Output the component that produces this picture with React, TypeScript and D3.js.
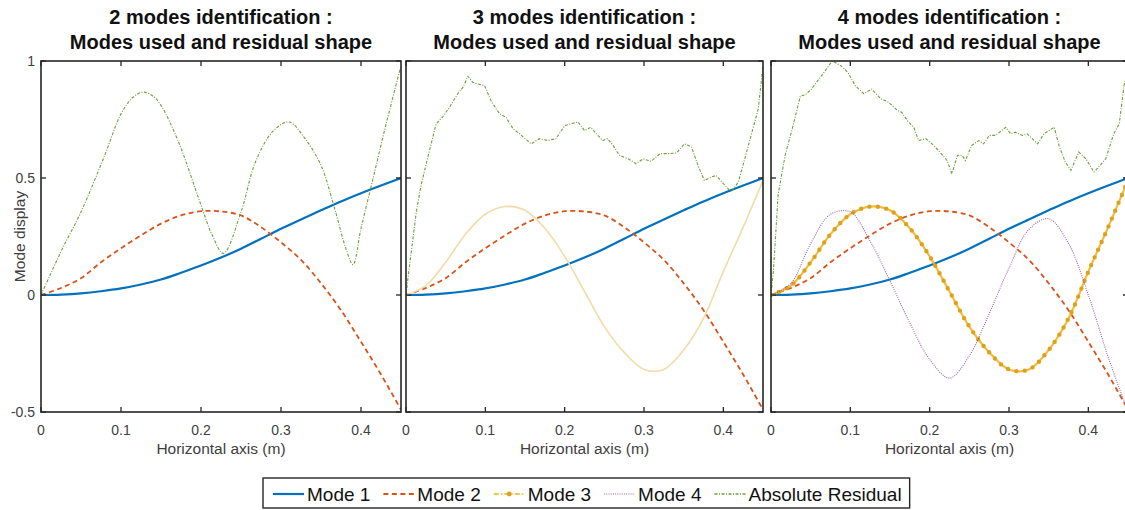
import React from "react";
import * as d3 from "d3";

const W = 1125;
const H = 510;

// Mode shapes sampled along the beam (m)
const xGrid = [0, 0.025, 0.05, 0.075, 0.1, 0.125, 0.15, 0.175, 0.2, 0.225, 0.25, 0.275, 0.3, 0.325, 0.35, 0.375, 0.4, 0.425, 0.45];
const mode1 = [0, 0.002, 0.007, 0.016, 0.028, 0.045, 0.066, 0.095, 0.126, 0.16, 0.198, 0.24, 0.283, 0.323, 0.362, 0.4, 0.435, 0.468, 0.5];
const mode2 = [0, 0.03, 0.072, 0.14, 0.2, 0.255, 0.305, 0.34, 0.358, 0.357, 0.34, 0.29, 0.225, 0.15, 0.05, -0.065, -0.2, -0.34, -0.49];
const mode3 = [0, 0.04, 0.14, 0.26, 0.345, 0.378, 0.362, 0.285, 0.165, 0.015, -0.135, -0.245, -0.318, -0.318, -0.235, -0.1, 0.1, 0.29, 0.49];
const mode4 = [0, 0.05, 0.22, 0.345, 0.355, 0.23, 0.06, -0.12, -0.275, -0.355, -0.26, -0.08, 0.115, 0.28, 0.326, 0.22, 0.0, -0.265, -0.5];

// Absolute residual, 2 modes
const res1X = [0, 0.012, 0.027, 0.05, 0.08, 0.1, 0.115, 0.128, 0.14, 0.15, 0.172, 0.2, 0.214, 0.228, 0.25, 0.268, 0.29, 0.31, 0.33, 0.35, 0.367, 0.381, 0.39, 0.4, 0.415, 0.432, 0.45];
const res1Y = [0, 0.09, 0.2, 0.355, 0.6, 0.774, 0.845, 0.867, 0.85, 0.81, 0.653, 0.384, 0.256, 0.178, 0.355, 0.568, 0.7, 0.739, 0.668, 0.554, 0.37, 0.2, 0.13, 0.284, 0.497, 0.739, 0.98];

// Absolute residual, 3 modes
const res2X = [0, 0.004, 0.013, 0.019, 0.025, 0.038, 0.046, 0.055, 0.065, 0.072, 0.078, 0.084, 0.09, 0.099, 0.107, 0.118, 0.126, 0.135, 0.143, 0.158, 0.168, 0.179, 0.189, 0.2, 0.208, 0.217, 0.225, 0.233, 0.24, 0.248, 0.254, 0.261, 0.269, 0.28, 0.29, 0.299, 0.309, 0.32, 0.332, 0.341, 0.351, 0.36, 0.368, 0.376, 0.385, 0.391, 0.4, 0.41, 0.419, 0.427, 0.435, 0.444, 0.45];
const res2Y = [0, 0.114, 0.355, 0.469, 0.554, 0.732, 0.76, 0.803, 0.859, 0.888, 0.935, 0.909, 0.902, 0.895, 0.831, 0.774, 0.76, 0.71, 0.689, 0.646, 0.668, 0.66, 0.668, 0.724, 0.732, 0.739, 0.703, 0.717, 0.689, 0.66, 0.668, 0.639, 0.597, 0.582, 0.561, 0.582, 0.571, 0.604, 0.604, 0.607, 0.646, 0.632, 0.554, 0.49, 0.504, 0.511, 0.476, 0.44, 0.483, 0.582, 0.682, 0.795, 0.98];

// Absolute residual, 4 modes
const res3X = [0, 0.003, 0.009, 0.018, 0.026, 0.037, 0.043, 0.051, 0.062, 0.07, 0.077, 0.083, 0.091, 0.098, 0.106, 0.117, 0.127, 0.138, 0.148, 0.159, 0.165, 0.173, 0.18, 0.186, 0.195, 0.203, 0.211, 0.222, 0.228, 0.235, 0.241, 0.245, 0.253, 0.262, 0.268, 0.275, 0.283, 0.296, 0.302, 0.308, 0.317, 0.323, 0.336, 0.344, 0.357, 0.363, 0.371, 0.378, 0.388, 0.397, 0.407, 0.413, 0.422, 0.432, 0.439, 0.445, 0.45];
const res3Y = [0, 0.1, 0.43, 0.6, 0.7, 0.85, 0.855, 0.88, 0.93, 0.966, 1.0, 0.99, 0.973, 0.945, 0.895, 0.86, 0.88, 0.84, 0.824, 0.79, 0.78, 0.74, 0.717, 0.66, 0.668, 0.646, 0.618, 0.575, 0.518, 0.597, 0.597, 0.575, 0.639, 0.66, 0.646, 0.682, 0.682, 0.717, 0.689, 0.696, 0.682, 0.689, 0.646, 0.689, 0.717, 0.639, 0.568, 0.533, 0.611, 0.582, 0.526, 0.547, 0.582, 0.689, 0.732, 0.895, 0.97];

const xTicks = [0, 0.1, 0.2, 0.3, 0.4];
const yTicks = [-0.5, 0, 0.5, 1];
const titles = ["2 modes identification :", "3 modes identification :", "4 modes identification :"];
const subtitle = "Modes used and residual shape";
const xLabel = "Horizontal axis (m)";
const yLabel = "Mode display";
const legendLabels = ["Mode 1", "Mode 2", "Mode 3", "Mode 4", "Absolute Residual"];

const FONT = '"Liberation Sans", Arial, sans-serif';
const C = {
  m1: "#0072BD",
  m2: "#D95319",
  m3: "#EDB120",
  m3pale: "#F1DCA8",
  m3dot: "#DDA21A",
  m4: "#8A4C99",
  res: "#6E9E35",
  axis: "#262626",
  tick: "#404040",
};

const TOP = 61;
const BOTTOM = 412;
const panels = [
  { left: 41, right: 401, nModes: 2, resX: res1X, resY: res1Y, smooth: true },
  { left: 406, right: 763, nModes: 3, resX: res2X, resY: res2Y, smooth: false },
  { left: 771, right: 1128, nModes: 4, resX: res3X, resY: res3Y, smooth: false },
];

function measure(s: string, font: string) {
  const ctx = document.createElement("canvas").getContext("2d");
  if (!ctx) return s.length * 9;
  ctx.font = font;
  return ctx.measureText(s).width;
}

function Panel({ p, idx }: { p: typeof panels[number]; idx: number }) {
  const x = d3.scaleLinear().domain([0, 0.45]).range([p.left, p.right]);
  const y = d3.scaleLinear().domain([-0.5, 1]).range([BOTTOM, TOP]);
  const modeLine = d3
    .line<number>()
    .x((_, i) => x(xGrid[i]))
    .y((d) => y(d))
    .curve(d3.curveCatmullRom.alpha(0.5));
  const resLine = d3
    .line<number>()
    .x((_, i) => x(p.resX[i]))
    .y((d) => y(d))
    .curve(p.smooth ? d3.curveCatmullRom.alpha(0.5) : d3.curveLinear);
  const clipId = `clip-${idx}`;
  const cx = (p.left + p.right) / 2;

  return (
    <g>
      <defs>
        <clipPath id={clipId}>
          <rect x={p.left} y={TOP} width={p.right - p.left} height={BOTTOM - TOP} />
        </clipPath>
      </defs>
      <text x={cx} y={24} textAnchor="middle" fontFamily={FONT} fontWeight="bold" fontSize={20} fill="#111">
        {titles[idx]}
      </text>
      <text x={cx} y={49} textAnchor="middle" fontFamily={FONT} fontWeight="bold" fontSize={20} fill="#111">
        {subtitle}
      </text>

      <g clipPath={`url(#${clipId})`} fill="none">
        <path d={modeLine(mode1) || ""} stroke={C.m1} strokeWidth={2.2} />
        <path d={modeLine(mode2) || ""} stroke={C.m2} strokeWidth={1.8} strokeDasharray="5 3.5" />
        {p.nModes === 3 && <path d={modeLine(mode3) || ""} stroke={C.m3pale} strokeWidth={1.6} />}
        {p.nModes === 4 && (
          <>
            <path d={modeLine(mode3) || ""} stroke={C.m3} strokeWidth={2.2} strokeOpacity={0.85} />
            <path d={modeLine(mode3) || ""} stroke={C.m3dot} strokeWidth={4.4} strokeLinecap="round" strokeDasharray="0 8.5" />
            <path d={modeLine(mode4) || ""} stroke={C.m4} strokeWidth={1.1} strokeDasharray="1 1.2" strokeOpacity={0.85} />
          </>
        )}
        <path d={resLine(p.resY) || ""} stroke={C.res} strokeWidth={1.1} strokeDasharray="3 1.5 1 1.5" />
      </g>

      <rect x={p.left} y={TOP} width={p.right - p.left} height={BOTTOM - TOP} fill="none" stroke={C.axis} strokeWidth={1.6} />

      {xTicks.map((t) => (
        <g key={`xt${t}`}>
          <line x1={x(t)} x2={x(t)} y1={BOTTOM} y2={BOTTOM - 5} stroke={C.axis} strokeWidth={1.3} />
          <line x1={x(t)} x2={x(t)} y1={TOP} y2={TOP + 5} stroke={C.axis} strokeWidth={1.3} />
          <text x={x(t)} y={435} textAnchor="middle" fontFamily={FONT} fontSize={14} fill={C.tick}>
            {t}
          </text>
        </g>
      ))}
      {yTicks.map((t) => (
        <g key={`yt${t}`}>
          <line x1={p.left} x2={p.left + 5} y1={y(t)} y2={y(t)} stroke={C.axis} strokeWidth={1.3} />
          <line x1={p.right} x2={p.right - 5} y1={y(t)} y2={y(t)} stroke={C.axis} strokeWidth={1.3} />
          {idx === 0 && (
            <text x={35} y={y(t)} dy="0.35em" textAnchor="end" fontFamily={FONT} fontSize={14} fill={C.tick}>
              {t}
            </text>
          )}
        </g>
      ))}
      <text x={cx} y={454} textAnchor="middle" fontFamily={FONT} fontSize={15.5} fill={C.tick}>
        {xLabel}
      </text>
      {idx === 0 && (
        <text
          transform={`translate(25,${(TOP + BOTTOM) / 2}) rotate(-90)`}
          textAnchor="middle"
          fontFamily={FONT}
          fontSize={15.5}
          fill={C.tick}
        >
          {yLabel}
        </text>
      )}
    </g>
  );
}

function Legend() {
  const font = `19px ${FONT}`;
  const x0 = 263;
  const top = 478;
  const bottom = 508;
  const pad = 10;
  const lineLen = 31;
  const gap = 3;
  const spacing = 13;
  const ly = 494;
  let cur = x0 + pad;
  const items = legendLabels.map((lab, i) => {
    const lx = cur;
    const tx = lx + lineLen + gap;
    const w = measure(lab, font);
    cur = tx + w + spacing;
    return { lab, lx, tx, i };
  });
  const right = cur - spacing + 8;
  return (
    <g>
      <rect x={x0} y={top} width={right - x0} height={bottom - top} fill="#fff" stroke={C.axis} strokeWidth={1.4} />
      {items.map(({ lab, lx, tx, i }) => (
        <g key={lab}>
          {i === 0 && <line x1={lx} x2={lx + lineLen} y1={ly} y2={ly} stroke={C.m1} strokeWidth={2.2} />}
          {i === 1 && <line x1={lx} x2={lx + lineLen} y1={ly} y2={ly} stroke={C.m2} strokeWidth={1.8} strokeDasharray="5 3.5" />}
          {i === 2 && (
            <>
              <line x1={lx} x2={lx + lineLen} y1={ly} y2={ly} stroke={C.m3} strokeWidth={1.6} strokeDasharray="5 2 1.5 2" />
              <circle cx={lx + lineLen / 2} cy={ly} r={2.4} fill={C.m3dot} />
            </>
          )}
          {i === 3 && <line x1={lx} x2={lx + lineLen} y1={ly} y2={ly} stroke={C.m4} strokeWidth={1.1} strokeDasharray="1 1.2" strokeOpacity={0.85} />}
          {i === 4 && <line x1={lx} x2={lx + lineLen} y1={ly} y2={ly} stroke={C.res} strokeWidth={1.3} strokeDasharray="3 1.5 1 1.5" />}
          <text x={tx} y={501} fontFamily={FONT} fontSize={19} fill="#111">
            {lab}
          </text>
        </g>
      ))}
    </g>
  );
}

export default function App() {
  return (
    <svg
      width={W}
      height={H}
      viewBox={`0 0 ${W} ${H}`}
      style={{ position: "absolute", left: 0, top: 0, background: "#fff" }}
    >
      <rect width={W} height={H} fill="#fff" />
      {panels.map((p, i) => (
        <Panel key={i} p={p} idx={i} />
      ))}
      <Legend />
    </svg>
  );
}
